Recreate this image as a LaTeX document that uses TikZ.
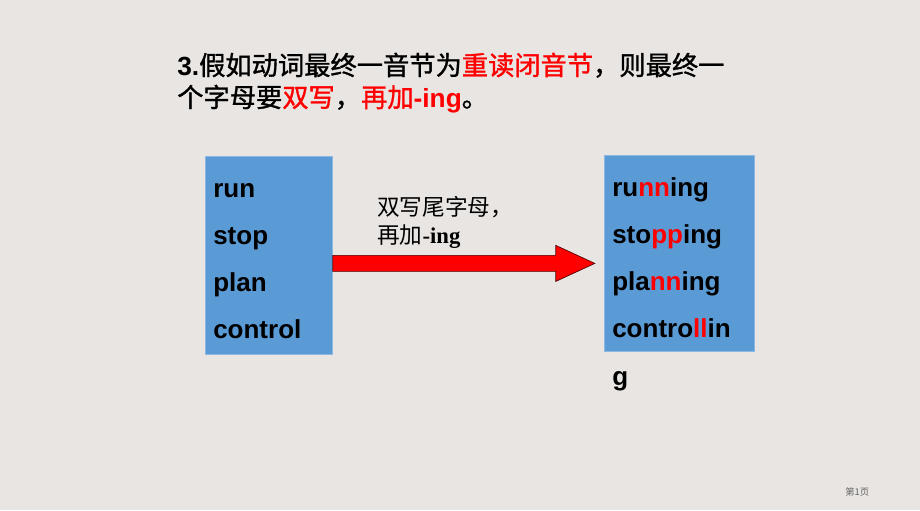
\documentclass[tikz,border=0pt]{standalone}
\usepackage{fontspec}
\setmainfont{Liberation Sans}
\newfontfamily\cjk{Noto Sans CJK SC}
\newfontfamily\cjkt{Noto Sans CJK SC}[FakeBold=1.2]
\newfontfamily\tms{Liberation Serif}
\definecolor{bg}{HTML}{E9E5E2}
\definecolor{boxblue}{HTML}{5B9BD5}
\definecolor{boxedge}{HTML}{8DB8E2}
\definecolor{arrowred}{HTML}{FF0000}
\newcommand\zh[1]{{\cjkt\mdseries #1}}
\newcommand\rd[1]{\textcolor{arrowred}{#1}}
\begin{document}
\begin{tikzpicture}[x=0.75pt,y=-0.75pt,
  wordbox/.style={fill=boxblue,draw=boxedge,line width=0.6pt,inner sep=0pt,anchor=north west},
  word/.style={anchor=base west,inner sep=0pt,font=\fontsize{19.5}{19.5}\selectfont\bfseries},
  title/.style={anchor=base west,inner sep=0pt,font=\fontsize{19.7}{19.7}\selectfont\bfseries},
  label/.style={anchor=base west,inner sep=0pt,font=\fontsize{17}{17}\selectfont\cjk},
  bigarrow/.style={fill=arrowred,draw=black!70!red,line width=0.5pt}]
\fill[bg] (0,0) rectangle (920,510);
\useasboundingbox (0,0) rectangle (920,510);
% title
\node[title] (t1) at (177,75) {3.\zh{假如动词最终一音节为}\rd{\zh{重读闭音节}}\zh{，则最终一}};
\node[title] (t2) at (177,107) {\zh{个字母要}\rd{\zh{双写}}\zh{，}\rd{\zh{再加}-ing}\zh{。}};
% boxes
\node[wordbox,minimum width=95.25pt,minimum height=148.5pt] (L) at (205,156) {};
\node[wordbox,minimum width=112.5pt,minimum height=147pt] (R) at (604,155) {};
% left words
\node[word] (w1) at (213,197) {run};
\node[word] (w2) at (213,244) {stop};
\node[word] (w3) at (213,291) {plan};
\node[word] (w4) at (213,338) {control};
% right words
\node[word] (r1) at (612,196) {ru\rd{nn}ing};
\node[word] (r2) at (612,243) {sto\rd{pp}ing};
\node[word] (r3) at (612,290) {pla\rd{nn}ing};
\node[word] (r4) at (612,337) {contro\rd{ll}in};
\node[word] (r5) at (612,385) {g};
% arrow
\coordinate (a0) at (L.east);
\draw[bigarrow] (a0) -- ++(223,0) -- ++(0,-10) -- ++(39,18) -- ++(-39,18) -- ++(0,-10) -- ++(-223,0) -- cycle;
% arrow label
\node[label] (l1) at (377,215) {双写尾字母，};
\node[label] (l2) at (377,243) {再加{\tms\bfseries -ing}};
% page number
\node[anchor=base west,inner sep=0pt,font=\fontsize{7}{7}\selectfont\cjk,text=black!60] (pg) at (845,495) {第1页};
\end{tikzpicture}
\end{document}
